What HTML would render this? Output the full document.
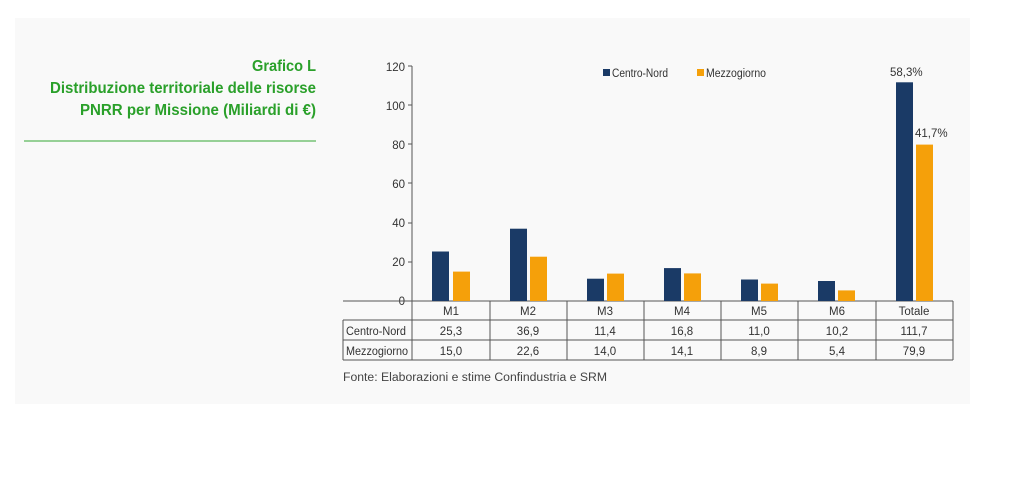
<!DOCTYPE html>
<html><head><meta charset="utf-8"><style>
body{margin:0;width:1013px;height:484px;background:#fff;overflow:hidden;font-family:"Liberation Sans",sans-serif}
</style></head><body>
<svg width="1013" height="484" xmlns="http://www.w3.org/2000/svg" style="position:absolute;left:0;top:0">
<rect x="15" y="18" width="955" height="386" fill="#f9f9f9"/>
<g font-family="Liberation Sans, sans-serif" font-weight="bold" fill="#2aa02a" font-size="16" text-anchor="end">
<text x="316" y="71" textLength="64" lengthAdjust="spacingAndGlyphs">Grafico L</text>
<text x="316" y="93" textLength="266" lengthAdjust="spacingAndGlyphs">Distribuzione territoriale delle risorse</text>
<text x="316" y="115" textLength="236" lengthAdjust="spacingAndGlyphs">PNRR per Missione (Miliardi di €)</text>
</g>
<line x1="24" y1="141" x2="316" y2="141" stroke="#5cb85c" stroke-width="1.2"/>
<g font-family="Liberation Sans, sans-serif" font-size="11.5" fill="#333" text-anchor="end">
<text x="405" y="305">0</text><text x="405" y="266">20</text><text x="405" y="227">40</text>
<text x="405" y="188">60</text><text x="405" y="149">80</text><text x="405" y="110">100</text><text x="405" y="71">120</text>
</g>
<g stroke="#555" stroke-width="1">
<line x1="412" y1="66" x2="412" y2="301"/>
<line x1="408" y1="66" x2="412" y2="66"/><line x1="408" y1="105" x2="412" y2="105"/><line x1="408" y1="144" x2="412" y2="144"/><line x1="408" y1="183" x2="412" y2="183"/><line x1="408" y1="223" x2="412" y2="223"/><line x1="408" y1="262" x2="412" y2="262"/>
<line x1="343" y1="301" x2="953" y2="301"/>
<line x1="343" y1="320" x2="953" y2="320"/><line x1="343" y1="340" x2="953" y2="340"/><line x1="343" y1="360" x2="953" y2="360"/>
<line x1="343" y1="320" x2="343" y2="360"/><line x1="412" y1="301" x2="412" y2="360"/>
<line x1="490" y1="301" x2="490" y2="360"/><line x1="567" y1="301" x2="567" y2="360"/><line x1="644" y1="301" x2="644" y2="360"/><line x1="721" y1="301" x2="721" y2="360"/><line x1="798" y1="301" x2="798" y2="360"/><line x1="876" y1="301" x2="876" y2="360"/><line x1="953" y1="301" x2="953" y2="360"/>
</g>
<g fill="#1a3a66">
<rect x="432" y="251.5" width="17" height="49.5"/>
<rect x="510" y="228.7" width="17" height="72.3"/>
<rect x="587" y="278.7" width="17" height="22.3"/>
<rect x="664" y="268.1" width="17" height="32.9"/>
<rect x="741" y="279.5" width="17" height="21.5"/>
<rect x="818" y="281" width="17" height="20"/>
<rect x="896" y="82.3" width="17" height="218.7"/>
</g>
<g fill="#f5a00a">
<rect x="453" y="271.6" width="17" height="29.4"/>
<rect x="530" y="256.7" width="17" height="44.3"/>
<rect x="607" y="273.6" width="17" height="27.4"/>
<rect x="684" y="273.4" width="17" height="27.6"/>
<rect x="761" y="283.6" width="17" height="17.4"/>
<rect x="838" y="290.4" width="17" height="10.6"/>
<rect x="916" y="144.6" width="17" height="156.4"/>
</g>
<rect x="603" y="69" width="7" height="7" fill="#1a3a66"/>
<rect x="697" y="69" width="7" height="7" fill="#f5a00a"/>
<g font-family="Liberation Sans, sans-serif" font-size="11.5" fill="#333">
<text x="612" y="77" textLength="56" lengthAdjust="spacingAndGlyphs">Centro-Nord</text><text x="706" y="77" textLength="60" lengthAdjust="spacingAndGlyphs">Mezzogiorno</text>
<text x="890" y="76">58,3%</text><text x="915" y="137">41,7%</text>
<text x="346" y="335" textLength="60" lengthAdjust="spacingAndGlyphs">Centro-Nord</text><text x="346" y="355" textLength="62" lengthAdjust="spacingAndGlyphs">Mezzogiorno</text>
</g>
<g font-family="Liberation Sans, sans-serif" font-size="11.5" fill="#333" text-anchor="middle">
<text x="451" y="315">M1</text><text x="528" y="315">M2</text><text x="605" y="315">M3</text><text x="682" y="315">M4</text><text x="759" y="315">M5</text><text x="837" y="315">M6</text><text x="914" y="315">Totale</text>
<text x="451" y="335">25,3</text><text x="528" y="335">36,9</text><text x="605" y="335">11,4</text><text x="682" y="335">16,8</text><text x="759" y="335">11,0</text><text x="837" y="335">10,2</text><text x="914" y="335">111,7</text>
<text x="451" y="355">15,0</text><text x="528" y="355">22,6</text><text x="605" y="355">14,0</text><text x="682" y="355">14,1</text><text x="759" y="355">8,9</text><text x="837" y="355">5,4</text><text x="914" y="355">79,9</text>
</g>
<text x="343" y="381" font-family="Liberation Sans, sans-serif" font-size="11.5" fill="#444" textLength="264" lengthAdjust="spacingAndGlyphs">Fonte: Elaborazioni e stime Confindustria e SRM</text>
</svg>
</body></html>
